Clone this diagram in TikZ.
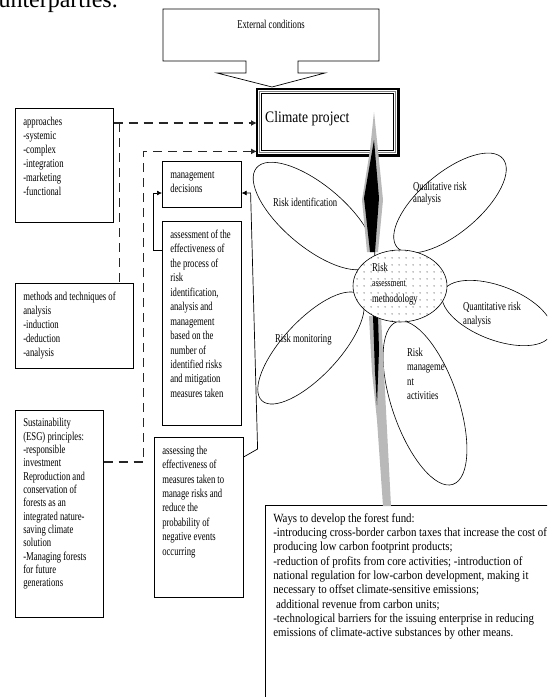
\documentclass[tikz,border=0pt]{standalone}
\usepackage{fontspec}
\setmainfont{Liberation Serif}
\newfontfamily\narf[FakeStretch=0.72]{Liberation Serif}
\newfontfamily\widef[FakeStretch=0.87]{Liberation Serif}
\newfontfamily\ttlf[FakeStretch=0.85]{Liberation Serif}
\usetikzlibrary{arrows.meta,shapes.geometric,patterns.meta,calc}
\newcommand\TBx[3]{\parbox[c][#2][t]{#1}{\begin{tabular}[t]{@{}l@{}}#3\end{tabular}}}
\newcommand\Lns[1]{\begin{tabular}[t]{@{}l@{}}#1\end{tabular}}
\begin{document}
\begin{tikzpicture}[x=1pt,y=-1pt,
  tbox/.style={draw, line width=0.6pt, anchor=north west, inner xsep=8pt, inner ysep=7pt},
  nar/.style={font=\narf\fontsize{12}{#1}\selectfont},
  petal/.style={draw, ellipse, line width=0.6pt, fill=white, inner sep=0pt},
  lbl/.style={anchor=north west, inner sep=0pt},
  dsh/.style={line width=1.6pt, dash pattern=on 9pt off 6pt, black!85},
  dtip/.style={-{Latex[length=6pt,width=6pt]}},
  arr/.style={line width=0.7pt, -{Latex[length=5pt,width=5pt]}}]
\useasboundingbox (0,0) rectangle (547,697);
\clip (0,0) rectangle (547,697);

% fragment of the page text above
\node[anchor=base east, font=\fontsize{24}{26}\selectfont, inner sep=0pt] (frag) at (118,7) {counterparties.};

% External conditions callout
\node[nar=14, inner sep=0pt] (ext) at (271,24) {External conditions};
\draw[line width=0.7pt] (163,9) -- (379,9) -- (379,61) -- (298,61) -- (298,73) -- (325,73)
  -- (272,87) -- (217,73) -- (246,73) -- (246,61) -- (163,61) -- cycle;

% Climate project box
\node[anchor=north west, minimum width=141pt, minimum height=66pt, inner sep=0pt] (climate) at (257,89) {};
\draw[line width=2.2pt] (climate.north west) rectangle (climate.south east);
\draw[gray, line width=0.9pt] ($(climate.north west)+(2.6,2.6)$) rectangle ($(climate.south east)+(-2.6,-2.6)$);
\draw[line width=1.1pt] ($(climate.north west)+(4.6,4.6)$) rectangle ($(climate.south east)+(-4.6,-4.6)$);
\node[anchor=base west, font=\ttlf\fontsize{16}{18}\selectfont, inner sep=0pt] (ctext) at (265,122) {Climate project};

% left boxes
\node[tbox, nar=14] (appr) at (15,108) {\TBx{82pt}{100pt}{approaches\\-systemic\\-complex\\-integration\\-marketing\\-functional}};
\node[tbox, nar=14] (meth) at (15,283) {\TBx{102pt}{71pt}{methods and techniques of\\analysis\\-induction\\-deduction\\-analysis}};
\node[tbox, nar=13.35] (sust) at (15,410) {\TBx{72pt}{193pt}{Sustainability\\(ESG) principles:\\-responsible\\investment\\Reproduction and\\conservation of\\forests as an\\integrated nature-\\saving climate\\solution\\-Managing forests\\for future\\generations}};

% middle boxes
\node[tbox, nar=14] (mgmt) at (162,161) {\TBx{63pt}{32pt}{management\\decisions}};
\node[tbox, nar=14.45] (assess) at (162,221) {\TBx{63pt}{190pt}{assessment of the\\effectiveness of\\the process of\\risk\\identification,\\analysis and\\management\\based on the\\number of\\identified risks\\and mitigation\\measures taken}};
\node[tbox, nar=14.4] (assessing) at (154,437) {\TBx{73pt}{146pt}{assessing the\\effectiveness of\\measures taken to\\manage risks and\\reduce the\\probability of\\negative events\\occurring}};

% Ways box
\node[tbox, font=\widef\fontsize{12.5}{14.3}\selectfont] (ways) at (265,505) {\TBx{300pt}{210pt}{Ways to develop the forest fund:\\-introducing cross-border carbon taxes that increase the cost of\\producing low carbon footprint products;\\-reduction of profits from core activities; -introduction of\\national regulation for low-carbon development, making it\\necessary to offset climate-sensitive emissions;\\\ additional revenue from carbon units;\\-technological barriers for the issuing enterprise in reducing\\emissions of climate-active substances by other means.}};

% petals
\node[petal, minimum width=150pt, minimum height=62pt, rotate=-40] (p1) at (314,216) {};
\node[petal, minimum width=138pt, minimum height=60pt, rotate=40] (p2) at (450,203) {};
\node[petal, minimum width=116pt, minimum height=54pt, rotate=-21] (p3) at (497,313) {};
\node[petal, minimum width=144pt, minimum height=56pt, rotate=47] (p4) at (311,348) {};
\node[petal, minimum width=172pt, minimum height=66pt, rotate=-71] (p5) at (425,403) {};

% stem
\fill[gray!55] (374,112) -- (378,150) -- (383,200) -- (378,252) -- (367,252) -- (362,200) -- (370,150) -- cycle;
\fill[black] (374,140) -- (379,198) -- (375,252) -- (370,252) -- (364,198) -- cycle;
\fill[gray!55] (369,316) -- (381,316) -- (384,372) -- (391,506) -- (383,506) -- (377,420) -- (372,372) -- cycle;
\fill[black] (373,316) -- (378,316) -- (379,350) -- (377,405) -- (375,372) -- cycle;

% centre
\node[ellipse, draw, line width=0.6pt, fill=white, minimum width=94pt, minimum height=72pt, inner sep=0pt,
  postaction={pattern={Dots[distance=6.5pt, radius=0.55pt]}}] (core) at (400,286) {};

% petal labels
\node[lbl, nar=14] (t1) at (273,196.2) {\Lns{Risk identification}};
\node[lbl, nar=12] (t2) at (413,181.6) {\Lns{Qualitative risk\\analysis}};
\node[lbl, nar=14] (t3) at (463,300.2) {\Lns{Quantitative risk\\analysis}};
\node[lbl, nar=14] (t4) at (275,332.2) {\Lns{Risk monitoring}};
\node[lbl, nar=14.5] (t5) at (407,345.9) {\Lns{Risk\\manageme\\nt\\activities}};
\node[lbl, nar=15.5] (t6) at (372,260.2) {\Lns{Risk\\{\fontsize{10.5}{15.5}\selectfont assessment}\\methodology}};

% connectors
\coordinate (a1) at ($(appr.north east)+(0,15)$);
\coordinate (j1) at ($(a1)+(6,0)$);
\draw[dsh, dtip] (a1) -- (a1 -| climate.west);
\draw[dsh] (j1) -- (j1 |- meth.north);
\coordinate (s1) at ($(sust.north east)+(0,52)$);
\coordinate (c2) at ($(climate.south west)+(0,-4)$);
\draw[dsh, dtip] (s1) -- ++(40,0) |- (c2);

\coordinate (m1) at ($(assess.north west)+(0,29)$);
\coordinate (m2) at ($(mgmt.north west)+(0,32)$);
\draw[arr] (m1) -- ++(-9,0) |- (m2);
\coordinate (m3) at ($(assessing.north east)+(0,20)$);
\coordinate (m4) at ($(mgmt.north east)+(0,32)$);
\draw[arr] (m3) -- ++(14,-8) -- ($(m4)+(9,0)$) -- (m4);
\end{tikzpicture}
\end{document}
